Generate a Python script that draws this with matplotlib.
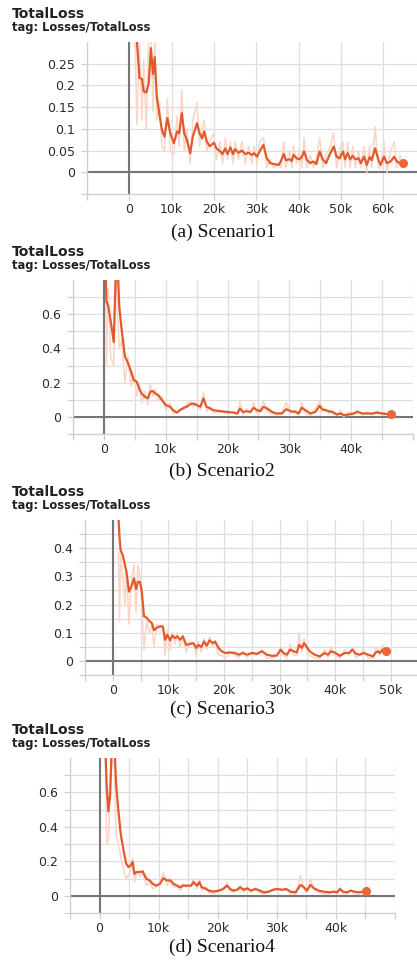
import matplotlib
matplotlib.use('Agg')
import matplotlib.pyplot as plt

# steps are in thousands (k)
steps_a = [1.2, 1.8, 2.4, 3.0, 3.4, 4.0, 4.6, 5.1, 5.6, 6.0, 6.5, 7.2, 7.7, 8.3, 9.0, 9.7, 10.5, 11.3, 11.8, 12.4,
           13.0, 13.6, 14.4, 15.0, 16.0, 16.6, 17.2, 17.7, 18.3, 19.0, 20.0, 20.6, 21.5, 22.0, 22.7, 23.2, 23.9, 24.5, 25.0, 25.8,
           26.6, 27.4, 28.2, 29.0, 29.5, 30.2, 30.8, 31.7, 32.5, 33.3, 34.1, 35.3, 35.8, 36.5, 37.0, 37.9, 38.4, 38.8, 39.6, 40.2,
           40.8, 41.3, 42.0, 42.8, 43.5, 44.2, 45.0, 45.7, 46.5, 47.5, 48.3, 49.0, 49.7, 50.5, 51.0, 51.6, 52.2, 52.8, 53.4, 54.2,
           54.7, 55.5, 56.1, 56.8, 57.3, 58.1, 58.9, 59.4, 60.2, 60.9, 61.8, 62.6, 63.2, 64.0, 64.6]
smooth_a = [0.45, 0.30, 0.217, 0.215, 0.186, 0.184, 0.205, 0.286, 0.226, 0.265, 0.175, 0.128, 0.098, 0.082, 0.125, 0.09, 0.067, 0.094, 0.09, 0.136,
            0.09, 0.075, 0.044, 0.082, 0.113, 0.09, 0.078, 0.094, 0.071, 0.06, 0.068, 0.055, 0.048, 0.042, 0.055, 0.042, 0.057, 0.042, 0.053, 0.045,
            0.05, 0.042, 0.045, 0.04, 0.044, 0.036, 0.048, 0.063, 0.032, 0.021, 0.019, 0.017, 0.025, 0.042, 0.028, 0.03, 0.026, 0.04, 0.032, 0.03,
            0.036, 0.048, 0.028, 0.021, 0.025, 0.019, 0.048, 0.03, 0.021, 0.044, 0.059, 0.036, 0.032, 0.048, 0.03, 0.044, 0.03, 0.038, 0.03, 0.032,
            0.021, 0.036, 0.017, 0.035, 0.028, 0.055, 0.028, 0.017, 0.036, 0.021, 0.025, 0.036, 0.025, 0.021, 0.021]
raw_a = [0.38, 0.11, 0.30, 0.12, 0.26, 0.10, 0.31, 0.33, 0.14, 0.31, 0.12, 0.16, 0.06, 0.05, 0.17, 0.05, 0.04, 0.13, 0.06, 0.19,
         0.05, 0.10, 0.02, 0.12, 0.16, 0.06, 0.10, 0.12, 0.05, 0.07, 0.09, 0.03, 0.07, 0.02, 0.08, 0.03, 0.07, 0.02, 0.07, 0.03,
         0.07, 0.02, 0.06, 0.02, 0.06, 0.02, 0.07, 0.08, 0.01, 0.03, 0.01, 0.02, 0.01, 0.07, 0.01, 0.05, 0.01, 0.06, 0.02, 0.05,
         0.01, 0.08, 0.01, 0.04, 0.01, 0.03, 0.08, 0.01, 0.04, 0.06, 0.09, 0.01, 0.05, 0.07, 0.01, 0.07, 0.01, 0.06, 0.01, 0.05,
         0.01, 0.06, 0.00, 0.06, 0.01, 0.105, 0.01, 0.01, 0.07, 0.00, 0.05, 0.07, 0.01, 0.04, 0.01]

steps_b = [0.3, 0.4, 0.7, 1.1, 1.6, 1.8, 2.0, 2.2, 2.5, 2.9, 3.4, 3.9, 4.4, 4.8, 5.3, 5.7, 6.1, 6.6, 7.1, 7.5,
           7.9, 8.3, 8.8, 9.4, 10.0, 10.7, 11.2, 11.8, 12.3, 12.9, 13.4, 14.0, 14.5, 15.0, 15.6, 16.1, 16.6, 17.2, 17.7, 18.8,
           19.9, 21.0, 21.6, 22.0, 22.5, 23.1, 23.7, 24.2, 24.8, 25.3, 25.8, 26.4, 27.2, 28.0, 28.8, 29.5, 30.2, 31.0, 31.5, 32.0,
           32.6, 33.4, 34.2, 34.9, 35.3, 35.8, 36.4, 36.9, 37.7, 38.3, 38.8, 39.6, 40.4, 41.0, 41.8, 42.6, 43.4, 44.2, 45.0, 46.4]
smooth_b = [0.85, 0.676, 0.647, 0.559, 0.437, 0.70, 0.90, 0.90, 0.637, 0.50, 0.353, 0.314, 0.265, 0.216, 0.206, 0.167, 0.137, 0.118, 0.108, 0.147,
            0.151, 0.137, 0.127, 0.098, 0.069, 0.059, 0.039, 0.025, 0.039, 0.053, 0.059, 0.075, 0.078, 0.069, 0.059, 0.108, 0.059, 0.049, 0.039, 0.033,
            0.029, 0.025, 0.02, 0.049, 0.029, 0.033, 0.029, 0.053, 0.039, 0.033, 0.059, 0.049, 0.029, 0.02, 0.02, 0.045, 0.033, 0.029, 0.02, 0.053,
            0.039, 0.02, 0.029, 0.065, 0.045, 0.039, 0.033, 0.029, 0.014, 0.02, 0.01, 0.014, 0.02, 0.029, 0.02, 0.02, 0.02, 0.025, 0.02, 0.014]
raw_b = [0.80, 0.30, 0.75, 0.35, 0.30, 0.80, 0.85, 0.60, 0.40, 0.45, 0.20, 0.35, 0.18, 0.25, 0.12, 0.20, 0.08, 0.15, 0.07, 0.19,
         0.12, 0.16, 0.09, 0.12, 0.04, 0.08, 0.02, 0.03, 0.05, 0.04, 0.08, 0.09, 0.06, 0.08, 0.04, 0.145, 0.03, 0.06, 0.02, 0.04,
         0.02, 0.03, 0.01, 0.09, 0.01, 0.05, 0.02, 0.085, 0.02, 0.05, 0.09, 0.03, 0.02, 0.01, 0.03, 0.085, 0.02, 0.04, 0.01, 0.085,
         0.02, 0.01, 0.05, 0.09, 0.03, 0.05, 0.02, 0.04, 0.01, 0.04, 0.00, 0.03, 0.01, 0.04, 0.01, 0.03, 0.01, 0.035, 0.01, 0.02]

steps_c = [1.0, 1.2, 1.4, 1.8, 2.2, 2.5, 2.9, 3.4, 3.8, 4.2, 4.5, 4.9, 5.2, 5.6, 6.1, 6.6, 7.0, 7.4, 7.9, 8.5,
           9.0, 9.4, 9.8, 10.3, 10.7, 11.2, 11.6, 12.1, 12.6, 13.2, 13.9, 14.5, 15.0, 15.4, 15.9, 16.4, 16.9, 17.4, 18.0, 18.4,
           19.0, 19.6, 20.2, 21.1, 22.0, 22.6, 23.4, 24.1, 25.0, 25.9, 26.8, 27.7, 28.6, 29.5, 30.2, 30.7, 31.3, 31.9, 32.5, 33.1,
           33.5, 34.0, 34.4, 34.9, 35.4, 36.3, 37.2, 38.1, 38.7, 39.2, 39.9, 40.8, 41.7, 42.5, 43.1, 43.7, 44.4, 45.1, 45.9, 46.8,
           47.3, 47.7, 48.0, 48.5, 49.1]
smooth_c = [0.52, 0.44, 0.393, 0.375, 0.339, 0.309, 0.246, 0.267, 0.293, 0.255, 0.281, 0.279, 0.249, 0.159, 0.153, 0.141, 0.135, 0.109, 0.117, 0.123,
            0.121, 0.075, 0.093, 0.073, 0.09, 0.081, 0.087, 0.075, 0.087, 0.057, 0.06, 0.063, 0.046, 0.057, 0.049, 0.069, 0.054, 0.073, 0.063, 0.069,
            0.046, 0.034, 0.028, 0.03, 0.028, 0.022, 0.028, 0.022, 0.028, 0.025, 0.034, 0.022, 0.018, 0.019, 0.04, 0.028, 0.022, 0.04, 0.034, 0.03,
            0.057, 0.046, 0.063, 0.049, 0.034, 0.022, 0.016, 0.028, 0.022, 0.034, 0.03, 0.018, 0.028, 0.028, 0.04, 0.025, 0.022, 0.028, 0.022, 0.016,
            0.03, 0.034, 0.028, 0.04, 0.034]
raw_c = [0.39, 0.14, 0.38, 0.30, 0.20, 0.33, 0.13, 0.30, 0.34, 0.17, 0.34, 0.30, 0.20, 0.04, 0.14, 0.10, 0.13, 0.05, 0.13, 0.12,
         0.13, 0.02, 0.11, 0.04, 0.10, 0.06, 0.10, 0.05, 0.09, 0.03, 0.07, 0.06, 0.02, 0.07, 0.03, 0.08, 0.04, 0.085, 0.05, 0.07,
         0.02, 0.02, 0.01, 0.03, 0.02, 0.01, 0.035, 0.01, 0.03, 0.02, 0.04, 0.01, 0.01, 0.02, 0.05, 0.02, 0.01, 0.06, 0.02, 0.02,
         0.10, 0.03, 0.08, 0.03, 0.02, 0.01, 0.01, 0.04, 0.01, 0.05, 0.02, 0.01, 0.04, 0.02, 0.05, 0.01, 0.02, 0.04, 0.01, 0.01,
         0.05, 0.04, 0.02, 0.055, 0.03]

steps_d = [1.0, 1.2, 1.5, 1.8, 2.1, 2.5, 2.8, 3.2, 3.6, 4.1, 4.5, 4.9, 5.3, 5.6, 5.9, 6.3, 6.9, 7.3, 7.9, 8.5,
           9.0, 9.6, 10.2, 10.8, 11.4, 12.0, 12.5, 13.1, 13.7, 14.1, 14.8, 15.5, 15.9, 16.5, 16.9, 17.3, 17.9, 18.5, 19.3, 20.2,
           20.9, 21.6, 22.1, 22.7, 23.3, 23.8, 24.4, 25.0, 25.6, 26.4, 27.1, 27.8, 28.6, 29.4, 30.1, 30.9, 31.6, 32.3, 33.2, 34.0,
           34.6, 35.1, 35.7, 36.3, 37.1, 37.9, 38.8, 39.7, 40.2, 40.7, 41.2, 41.9, 42.5, 43.1, 43.9, 44.7, 45.1]
smooth_d = [0.85, 0.64, 0.49, 0.59, 0.90, 0.90, 0.65, 0.49, 0.355, 0.256, 0.187, 0.167, 0.177, 0.197, 0.128, 0.138, 0.138, 0.142, 0.099, 0.089,
            0.069, 0.059, 0.069, 0.102, 0.089, 0.089, 0.069, 0.059, 0.049, 0.059, 0.059, 0.059, 0.079, 0.059, 0.079, 0.049, 0.043, 0.03, 0.024, 0.03,
            0.039, 0.059, 0.039, 0.03, 0.035, 0.049, 0.035, 0.043, 0.03, 0.039, 0.03, 0.02, 0.024, 0.035, 0.039, 0.035, 0.039, 0.024, 0.02, 0.063,
            0.049, 0.03, 0.063, 0.043, 0.03, 0.024, 0.02, 0.024, 0.02, 0.039, 0.024, 0.02, 0.03, 0.024, 0.02, 0.024, 0.026]
raw_d = [0.80, 0.30, 0.32, 0.70, 0.80, 0.75, 0.35, 0.30, 0.22, 0.15, 0.10, 0.12, 0.15, 0.22, 0.08, 0.14, 0.11, 0.14, 0.06, 0.08,
         0.04, 0.05, 0.07, 0.135, 0.06, 0.10, 0.05, 0.05, 0.03, 0.07, 0.05, 0.06, 0.10, 0.04, 0.095, 0.03, 0.04, 0.02, 0.01, 0.03,
         0.04, 0.075, 0.03, 0.02, 0.04, 0.06, 0.02, 0.05, 0.02, 0.05, 0.02, 0.01, 0.02, 0.04, 0.045, 0.03, 0.045, 0.01, 0.01, 0.12,
         0.04, 0.02, 0.10, 0.03, 0.02, 0.01, 0.01, 0.02, 0.01, 0.05, 0.01, 0.01, 0.035, 0.01, 0.01, 0.02, 0.03]

title = 'TotalLoss'
subtitle = 'tag: Losses/TotalLoss'
captions = ['(a) Scenario1', '(b) Scenario2', '(c) Scenario3', '(d) Scenario4']

xticks_a = [-10, 0, 10, 20, 30, 40, 50, 60]
xlabels_a = ['', '0', '10k', '20k', '30k', '40k', '50k', '60k']
yticks_a = [-0.05, 0, 0.05, 0.1, 0.15, 0.2, 0.25]
ylabels_a = ['', '0', '0.05', '0.1', '0.15', '0.2', '0.25']

xticks_5k = [-5, 0, 5, 10, 15, 20, 25, 30, 35, 40, 45, 50]
xlabels_bd = ['', '0', '', '10k', '', '20k', '', '30k', '', '40k', '', '']
xlabels_c = ['', '0', '', '10k', '', '20k', '', '30k', '', '40k', '', '50k']
yticks_bd = [-0.1, 0, 0.1, 0.2, 0.3, 0.4, 0.5, 0.6, 0.7]
ylabels_bd = ['', '0', '', '0.2', '', '0.4', '', '0.6', '']
yticks_c = [-0.05, 0, 0.05, 0.1, 0.15, 0.2, 0.25, 0.3, 0.35, 0.4, 0.45]
ylabels_c = ['', '0', '', '0.1', '', '0.2', '', '0.3', '', '0.4', '']

W, H = 417, 961
SMOOTH = '#e25a2b'
RAW = '#fad5c8'
fig = plt.figure(figsize=(W / 100, H / 100), dpi=100)


def panel(box, steps, smooth, raw, xlim, ylim, xt, xl, yt, yl, cap, cap_x, cap_y):
    left, top, right, bottom = box
    ax = fig.add_axes([left / W, 1 - bottom / H, (right - left) / W, (bottom - top) / H])
    ax.set_xlim(*xlim)
    ax.set_ylim(*ylim)
    ax.set_xticks(xt)
    ax.set_xticklabels(xl)
    ax.set_yticks(yt)
    ax.set_yticklabels(yl)
    ax.grid(True, color='#dedede', lw=0.9)
    ax.set_axisbelow(True)
    for s in ['top', 'right']:
        ax.spines[s].set_visible(False)
    for s in ['left', 'bottom']:
        ax.spines[s].set_color('#cfcfcf')
        ax.spines[s].set_linewidth(0.9)
    ax.tick_params(length=4.3, width=0.9, color='#cfcfcf', labelsize=9, labelcolor='#2a2a2a')
    ax.tick_params(axis='y', pad=4.5)
    ax.tick_params(axis='x', pad=2.5)
    ax.axhline(0, color='#767676', lw=1.5, zorder=1)
    ax.axvline(0, color='#767676', lw=1.5, zorder=1)
    ax.plot(steps, raw, color=RAW, lw=1.1, zorder=2)
    ax.plot(steps, smooth, color=SMOOTH, lw=1.6, zorder=3)
    ax.plot(steps[-1], smooth[-1], 'o', color='#ec6636', ms=5.5, zorder=4)
    fig.text(12 / W, 1 - (top - 24) / H, title, fontsize=10, fontweight='bold', color='#222222', va='baseline')
    fig.text(12 / W, 1 - (top - 11) / H, subtitle, fontsize=8.3, fontweight='bold', color='#222222', va='baseline')
    fig.text(cap_x / W, 1 - cap_y / H, cap, fontsize=14, family='Liberation Serif', color='#111111',
             ha='center', va='baseline')
    return ax


panel((87, 42, 417, 194), steps_a, smooth_a, raw_a, (-10, 68), (-0.05, 0.30),
      xticks_a, xlabels_a, yticks_a, ylabels_a, captions[0], 223, 237)
panel((73, 280, 413, 434), steps_b, smooth_b, raw_b, (-5, 50), (-0.1, 0.8),
      xticks_5k, xlabels_bd, yticks_bd, ylabels_bd, captions[1], 222, 476)
panel((85, 520, 417, 675), steps_c, smooth_c, raw_c, (-5, 54.7), (-0.05, 0.5),
      xticks_5k, xlabels_c, yticks_c, ylabels_c, captions[2], 222, 714)
panel((70, 758, 395, 913), steps_d, smooth_d, raw_d, (-5, 50), (-0.1, 0.8),
      xticks_5k, xlabels_bd, yticks_bd, ylabels_bd, captions[3], 222, 952)

fig.savefig('out.png', dpi=100)
